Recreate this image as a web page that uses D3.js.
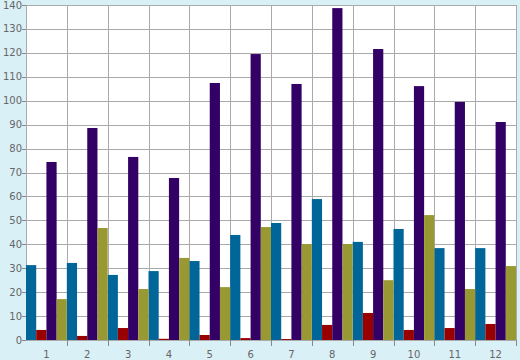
<!DOCTYPE html>
<html>
<head>
<meta charset="utf-8">
<script src="https://cdn.jsdelivr.net/npm/d3@7"></script>
<style>
  html, body { margin: 0; padding: 0; background: #daf0f7; }
  #chart text { font-family: "DejaVu Sans", sans-serif; font-size: 10px; fill: #666; }
</style>
</head>
<body>
<div id="chart"></div>
<script>
const categories = ["1", "2", "3", "4", "5", "6", "7", "8", "9", "10", "11", "12"];
const seriesNames = ["blue", "red", "purple", "olive"];
const seriesColors = ["#006699", "#990000", "#330066", "#999933"];
const blueValues = [31.3, 32.2, 27.2, 28.8, 33, 43.9, 48.9, 58.9, 41, 46.4, 38.4, 38.4];
const redValues = [4.2, 1.7, 5, 0.5, 2.1, 0.8, 0.4, 6.3, 11.3, 4.2, 5, 6.7];
const purpleValues = [74.4, 88.6, 76.5, 67.7, 107.4, 119.5, 107, 138.7, 121.6, 106.1, 99.5, 91.1];
const oliveValues = [17.1, 46.8, 21.3, 34.3, 22.1, 47.2, 40.1, 40.1, 25, 52.2, 21.3, 30.9];
const yTicks = d3.range(0, 141, 10);

const W = 520, H = 360;
const margin = { top: 5, right: 4, bottom: 20, left: 26 };
const values = [blueValues, redValues, purpleValues, oliveValues];

const svg = d3.select("#chart").append("svg")
  .attr("width", W).attr("height", H);

const x = d3.scaleBand().domain(categories)
  .range([margin.left, W - margin.right]).padding(0);
const xs = d3.scaleBand().domain(seriesNames)
  .range([0, x.bandwidth()]).padding(0);
const y = d3.scaleLinear().domain([0, 140])
  .range([H - margin.bottom, margin.top]);

// plot background
svg.append("rect")
  .attr("x", margin.left).attr("y", margin.top)
  .attr("width", W - margin.left - margin.right)
  .attr("height", H - margin.top - margin.bottom)
  .attr("fill", "#fff");

// grid
const grid = svg.append("g").attr("stroke", "#aaa").attr("stroke-width", 1);
grid.selectAll(".h").data(yTicks).join("line")
  .attr("x1", margin.left).attr("x2", W - margin.right)
  .attr("y1", d => Math.round(y(d)) + 0.5).attr("y2", d => Math.round(y(d)) + 0.5);
const bounds = [margin.left].concat(categories.map(c => x(c) + x.bandwidth()));
grid.selectAll(".v").data(bounds).join("line")
  .attr("x1", d => Math.round(d) + 0.5).attr("x2", d => Math.round(d) + 0.5)
  .attr("y1", margin.top).attr("y2", H - margin.bottom);

// bars
seriesNames.forEach((s, si) => {
  svg.append("g").attr("fill", seriesColors[si])
    .selectAll("rect").data(categories).join("rect")
    .attr("x", c => x(c) + xs(s))
    .attr("width", xs.bandwidth())
    .attr("y", (c, i) => y(values[si][i]))
    .attr("height", (c, i) => y(0) - y(values[si][i]));
});

// x axis ticks at band edges and labels at centres
const xAxis = svg.append("g");
xAxis.selectAll("line").data(bounds.slice(1)).join("line")
  .attr("x1", d => Math.round(d) + 0.5).attr("x2", d => Math.round(d) + 0.5)
  .attr("y1", H - margin.bottom).attr("y2", H - margin.bottom + 6)
  .attr("stroke", "#888");
xAxis.selectAll("text").data(categories).join("text")
  .attr("x", c => x(c) + x.bandwidth() / 2)
  .attr("y", H - 2)
  .attr("text-anchor", "middle")
  .text(c => c);

// y axis
const yAxis = svg.append("g");
yAxis.selectAll("line").data(yTicks).join("line")
  .attr("x1", margin.left - 4).attr("x2", margin.left)
  .attr("y1", d => Math.round(y(d)) + 0.5).attr("y2", d => Math.round(y(d)) + 0.5)
  .attr("stroke", "#888");
yAxis.selectAll("text").data(yTicks).join("text")
  .attr("x", margin.left - 4)
  .attr("y", d => y(d))
  .attr("dy", "0.35em")
  .attr("text-anchor", "end")
  .text(d => d);
</script>
</body>
</html>
